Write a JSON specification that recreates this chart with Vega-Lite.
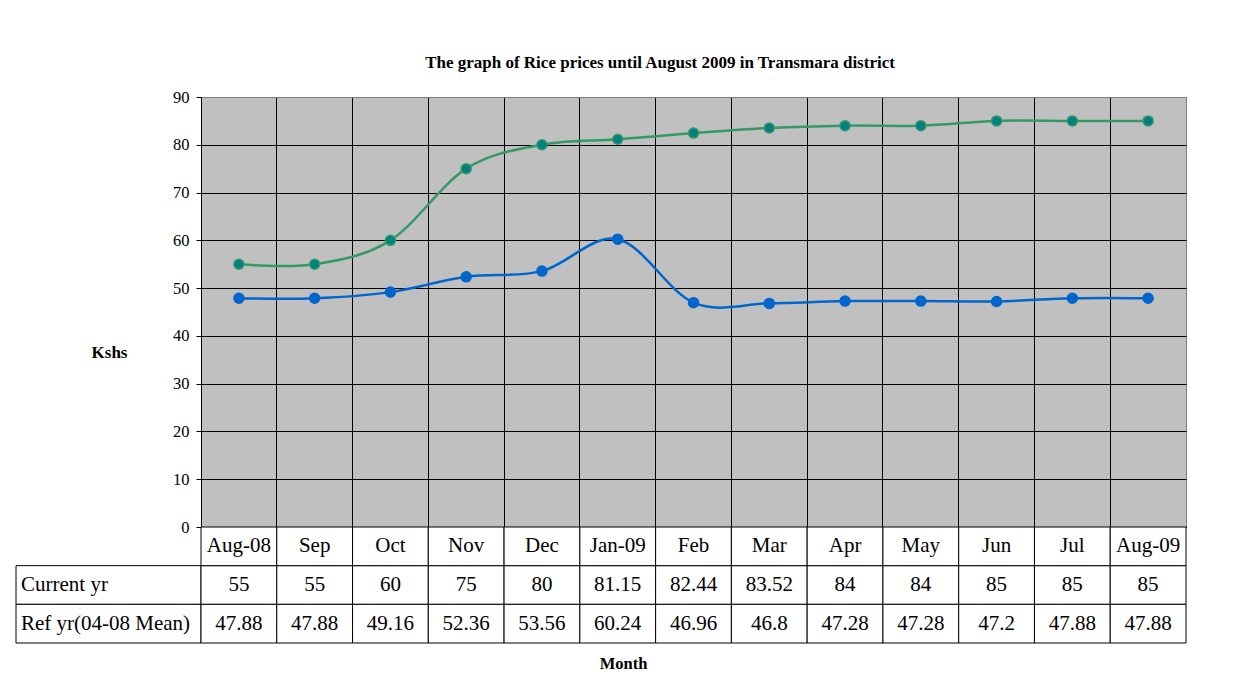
{
  "$schema": "https://vega.github.io/schema/vega-lite/v6.json",
  "padding": {"left": 15, "top": 53, "right": 5, "bottom": 5},
  "background": "white",
  "title": {
    "text": "The graph of Rice prices until August 2009 in Transmara district",
    "font": "Liberation Serif",
    "fontSize": 17,
    "fontWeight": "bold",
    "color": "black",
    "anchor": "middle",
    "dx": 59,
    "offset": 17
  },
  "datasets": {
    "prices": [
      {"month": "Aug-08", "series": "Current yr", "price": 55},
      {"month": "Sep", "series": "Current yr", "price": 55},
      {"month": "Oct", "series": "Current yr", "price": 60},
      {"month": "Nov", "series": "Current yr", "price": 75},
      {"month": "Dec", "series": "Current yr", "price": 80},
      {"month": "Jan-09", "series": "Current yr", "price": 81.15},
      {"month": "Feb", "series": "Current yr", "price": 82.44},
      {"month": "Mar", "series": "Current yr", "price": 83.52},
      {"month": "Apr", "series": "Current yr", "price": 84},
      {"month": "May", "series": "Current yr", "price": 84},
      {"month": "Jun", "series": "Current yr", "price": 85},
      {"month": "Jul", "series": "Current yr", "price": 85},
      {"month": "Aug-09", "series": "Current yr", "price": 85},
      {"month": "Aug-08", "series": "Ref yr(04-08 Mean)", "price": 47.88},
      {"month": "Sep", "series": "Ref yr(04-08 Mean)", "price": 47.88},
      {"month": "Oct", "series": "Ref yr(04-08 Mean)", "price": 49.16},
      {"month": "Nov", "series": "Ref yr(04-08 Mean)", "price": 52.36},
      {"month": "Dec", "series": "Ref yr(04-08 Mean)", "price": 53.56},
      {"month": "Jan-09", "series": "Ref yr(04-08 Mean)", "price": 60.24},
      {"month": "Feb", "series": "Ref yr(04-08 Mean)", "price": 46.96},
      {"month": "Mar", "series": "Ref yr(04-08 Mean)", "price": 46.8},
      {"month": "Apr", "series": "Ref yr(04-08 Mean)", "price": 47.28},
      {"month": "May", "series": "Ref yr(04-08 Mean)", "price": 47.28},
      {"month": "Jun", "series": "Ref yr(04-08 Mean)", "price": 47.2},
      {"month": "Jul", "series": "Ref yr(04-08 Mean)", "price": 47.88},
      {"month": "Aug-09", "series": "Ref yr(04-08 Mean)", "price": 47.88}
    ]
  },
  "columns": 2,
  "spacing": 0,
  "align": "each",
  "bounds": "flush",
  "concat": [
    {
      "width": 185,
      "height": 430,
      "data": {"values": []},
      "mark": "point"
    },
    {
      "width": 985,
      "height": 430,
      "view": {"fill": "#C0C0C0", "stroke": "#808080", "strokeWidth": 1},
      "data": {"name": "prices"},
      "encoding": {
        "x": {
          "field": "month",
          "type": "nominal",
          "sort": ["Aug-08", "Sep", "Oct", "Nov", "Dec", "Jan-09", "Feb", "Mar", "Apr", "May", "Jun", "Jul", "Aug-09"],
          "scale": {"type": "band", "paddingInner": 0, "paddingOuter": 0},
          "axis": {
            "title": null,
            "labels": false,
            "ticks": false,
            "domain": true,
            "domainColor": "black",
            "domainWidth": 1,
            "grid": true,
            "gridColor": "black",
            "gridOpacity": 1,
            "gridWidth": 1,
            "bandPosition": 0
          }
        },
        "y": {
          "field": "price",
          "type": "quantitative",
          "scale": {"domain": [0, 90], "nice": false},
          "axis": {
            "values": [0, 10, 20, 30, 40, 50, 60, 70, 80, 90],
            "title": "Kshs",
            "titleFont": "Liberation Serif",
            "titleFontSize": 17,
            "titleFontWeight": "bold",
            "titleColor": "black",
            "titleAngle": 0,
            "titleAlign": "center",
            "titleBaseline": "middle",
            "titleX": -92,
            "titleY": 255,
            "labelFont": "Liberation Serif",
            "labelFontSize": 16.5,
            "labelColor": "black",
            "labelPadding": 7,
            "tickSize": 5,
            "tickColor": "black",
            "domainColor": "black",
            "grid": true,
            "gridColor": {"condition": {"test": "datum.value == 90", "value": "#808080"}, "value": "black"},
            "gridOpacity": 1,
            "gridWidth": 1
          }
        }
      },
      "layer": [
        {
          "mark": {"type": "line", "interpolate": "cardinal", "strokeWidth": 2.5},
          "encoding": {
            "color": {
              "field": "series",
              "type": "nominal",
              "scale": {"domain": ["Current yr", "Ref yr(04-08 Mean)"], "range": ["#339966", "#0066CC"]},
              "legend": null
            }
          }
        },
        {
          "mark": {"type": "point", "filled": true, "size": 100, "strokeWidth": 1.5, "opacity": 1},
          "encoding": {
            "fill": {
              "field": "series",
              "type": "nominal",
              "scale": {"domain": ["Current yr", "Ref yr(04-08 Mean)"], "range": ["#008080", "#0066CC"]},
              "legend": null
            },
            "stroke": {
              "field": "series",
              "type": "nominal",
              "scale": {"domain": ["Current yr", "Ref yr(04-08 Mean)"], "range": ["#339966", "#0066CC"]},
              "legend": null
            }
          }
        }
      ]
    },
    {
      "width": 185,
      "height": 116,
      "data": {"name": "prices"},
      "transform": [{"filter": "datum.month == 'Aug-08'"}],
      "encoding": {
        "y": {
          "field": "series",
          "type": "nominal",
          "scale": {"domain": ["Month", "Current yr", "Ref yr(04-08 Mean)"], "paddingInner": 0, "paddingOuter": 0},
          "axis": null
        }
      },
      "layer": [
        {"mark": {"type": "rect", "fill": "white", "stroke": "black", "strokeWidth": 1}},
        {
          "mark": {"type": "text", "align": "left", "baseline": "middle", "dx": 5, "font": "Liberation Serif", "fontSize": 21, "color": "black"},
          "encoding": {
            "x": {"datum": 0, "type": "quantitative", "scale": {"domain": [0, 1]}, "axis": null},
            "text": {"field": "series", "type": "nominal"}
          }
        }
      ]
    },
    {
      "width": 985,
      "height": 116,
      "data": {"name": "prices"},
      "encoding": {
        "x": {
          "field": "month",
          "type": "nominal",
          "sort": ["Aug-08", "Sep", "Oct", "Nov", "Dec", "Jan-09", "Feb", "Mar", "Apr", "May", "Jun", "Jul", "Aug-09"],
          "scale": {"type": "band", "paddingInner": 0, "paddingOuter": 0},
          "axis": {
            "title": "Month",
            "titleFont": "Liberation Serif",
            "titleFontSize": 16.5,
            "titleFontWeight": "bold",
            "titleColor": "black",
            "titleX": 422,
            "titleAlign": "center",
            "titlePadding": 12,
            "labels": false,
            "ticks": false,
            "domain": false,
            "grid": false
          }
        }
      },
      "layer": [
        {
          "mark": {"type": "rect", "fill": "white", "stroke": "black", "strokeWidth": 1},
          "encoding": {
            "y": {
              "field": "series",
              "type": "nominal",
              "scale": {"domain": ["Month", "Current yr", "Ref yr(04-08 Mean)"], "paddingInner": 0, "paddingOuter": 0},
              "axis": null
            }
          }
        },
        {
          "mark": {"type": "text", "baseline": "middle", "font": "Liberation Serif", "fontSize": 21, "color": "black"},
          "encoding": {
            "y": {"field": "series", "type": "nominal"},
            "text": {"field": "price", "type": "nominal"}
          }
        },
        {
          "transform": [{"filter": "datum.series == 'Current yr'"}],
          "mark": {"type": "rect", "fill": "white", "stroke": "black", "strokeWidth": 1},
          "encoding": {"y": {"datum": "Month", "type": "nominal"}}
        },
        {
          "transform": [{"filter": "datum.series == 'Current yr'"}],
          "mark": {"type": "text", "baseline": "middle", "font": "Liberation Serif", "fontSize": 21, "color": "black"},
          "encoding": {
            "y": {"datum": "Month", "type": "nominal"},
            "text": {"field": "month", "type": "nominal"}
          }
        }
      ]
    }
  ],
  "config": {
    "view": {"stroke": null},
    "font": "Liberation Serif"
  }
}
